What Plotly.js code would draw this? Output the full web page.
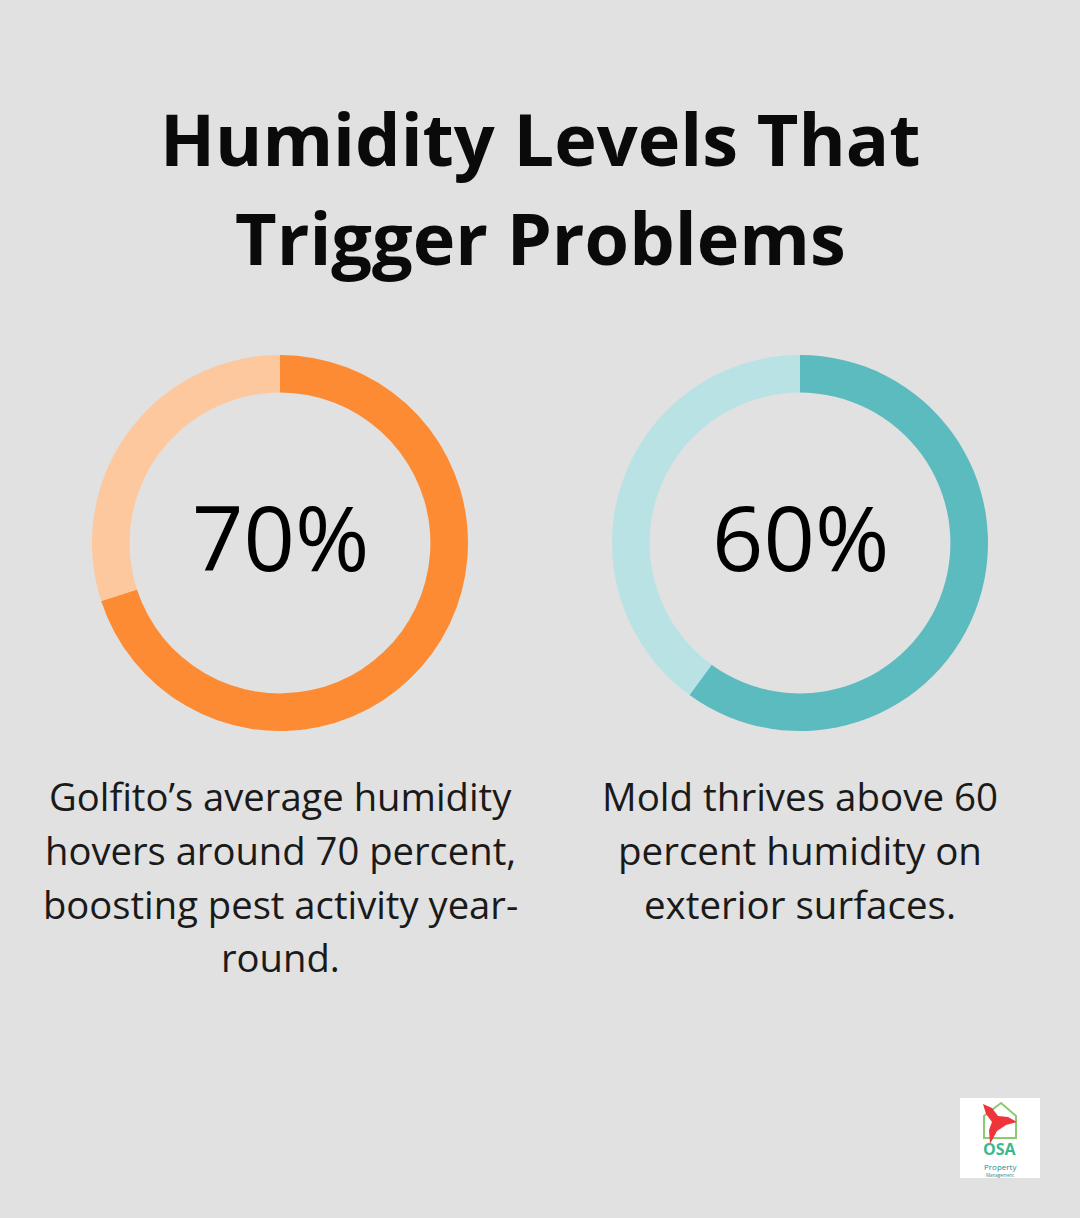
<!DOCTYPE html>
<html>
<head>
<meta charset="utf-8">
<script src="https://cdn.plot.ly/plotly-3.0.1.min.js"></script>
<style>html,body{margin:0;padding:0;background:#E0E1E0;}#chart{width:1080px;height:1218px;}</style>
</head>
<body>
<div id="chart"></div>
<script>
const titleLines = ["Humidity Levels That", "Trigger Problems"];
const statLabels = ["70%", "60%"];
const statValues = [70, 60];
const captionLeft = ["Golfito’s average humidity", "hovers around 70 percent,", "boosting pest activity year-", "round."];
const captionRight = ["Mold thrives above 60", "percent humidity on", "exterior surfaces."];
const sliceNames = ["Humidity", "Remainder"];

const W = 1080, H = 1218;
const px = x => x / W;
const py = y => 1 - y / H;
const font = "Open Sans, Noto Sans, sans-serif";

function ring(cx, cy, r, val, colors) {
  return {
    type: "pie",
    values: [val, 100 - val],
    labels: sliceNames,
    sort: false,
    direction: "clockwise",
    rotation: 0,
    hole: 0.8,
    textinfo: "none",
    hoverinfo: "skip",
    showlegend: false,
    marker: { colors: colors, line: { width: 0 } },
    domain: { x: [px(cx - r), px(cx + r)], y: [py(cy + r), py(cy - r)] }
  };
}

const data = [
  ring(280, 543, 188, statValues[0], ["#FD8B34", "#FEC89E"]),
  ring(800, 543, 188, statValues[1], ["#5BBBBF", "#B9E2E4"])
];

const ann = [];
titleLines.forEach((t, i) => {
  ann.push({ text: "<b>" + t + "</b>", x: 0.5, y: py([138, 237][i]), xref: "paper", yref: "paper",
    xanchor: "center", yanchor: "middle", showarrow: false,
    font: { family: font, size: 72, color: "#0A0A0A" } });
});
[[280, statLabels[0]], [800, statLabels[1]]].forEach(([cx, t]) => {
  ann.push({ text: t, x: px(cx), y: py(536), xref: "paper", yref: "paper",
    xanchor: "center", yanchor: "middle", showarrow: false,
    font: { family: font, size: 90, color: "#000000" } });
});
const lineY = [796, 850, 904, 957];
captionLeft.forEach((t, i) => {
  ann.push({ text: t, x: px(280), y: py(lineY[i]), xref: "paper", yref: "paper",
    xanchor: "center", yanchor: "middle", showarrow: false,
    font: { family: font, size: 38.2, color: "#1A1A1A" } });
});
captionRight.forEach((t, i) => {
  ann.push({ text: t, x: px(800), y: py(lineY[i]), xref: "paper", yref: "paper",
    xanchor: "center", yanchor: "middle", showarrow: false,
    font: { family: font, size: 38.5, color: "#1A1A1A" } });
});
// logo text
ann.push({ text: "<b>OSA</b>", x: px(1000), y: py(1149), xref: "paper", yref: "paper",
  xanchor: "center", yanchor: "middle", showarrow: false,
  font: { family: font, size: 16, color: "#3CB88F" } });
ann.push({ text: "Property", x: px(1000), y: py(1166), xref: "paper", yref: "paper",
  xanchor: "center", yanchor: "middle", showarrow: false,
  font: { family: font, size: 8, color: "#2E8A8C" } });
ann.push({ text: "Management", x: px(1000), y: py(1175), xref: "paper", yref: "paper",
  xanchor: "center", yanchor: "middle", showarrow: false,
  font: { family: font, size: 4.5, color: "#2E8A8C" } });

const shapes = [
  { type: "rect", xref: "paper", yref: "paper", x0: px(960), x1: px(1040), y0: py(1178), y1: py(1098),
    fillcolor: "#FFFFFF", line: { width: 0 }, layer: "above" },
  // house outline
  { type: "path", xref: "paper", yref: "paper",
    path: `M ${px(984)} ${py(1138)} L ${px(984)} ${py(1116)} L ${px(1001)} ${py(1103)} L ${px(1016)} ${py(1116)} L ${px(1016)} ${py(1138)} Z`,
    fillcolor: "rgba(0,0,0,0)", line: { color: "#8CCB6E", width: 2 }, layer: "above" },
  // bird
  { type: "path", xref: "paper", yref: "paper",
    path: `M ${px(983)} ${py(1104)} L ${px(992)} ${py(1108)} L ${px(998)} ${py(1116)} L ${px(1008)} ${py(1117)} L ${px(1017)} ${py(1122)} L ${px(1006)} ${py(1125)} L ${px(997)} ${py(1131)} L ${px(990)} ${py(1144)} L ${px(989)} ${py(1130)} L ${px(992)} ${py(1122)} L ${px(986)} ${py(1114)} Z`,
    fillcolor: "#F0353A", line: { width: 0 }, layer: "above" }
];

const layout = {
  width: W, height: H,
  margin: { l: 0, r: 0, t: 0, b: 0 },
  paper_bgcolor: "#E0E1E0",
  plot_bgcolor: "#E0E1E0",
  annotations: ann,
  shapes: shapes,
  showlegend: false
};

Plotly.newPlot("chart", data, layout, { displayModeBar: false, staticPlot: true });
</script>
</body>
</html>
